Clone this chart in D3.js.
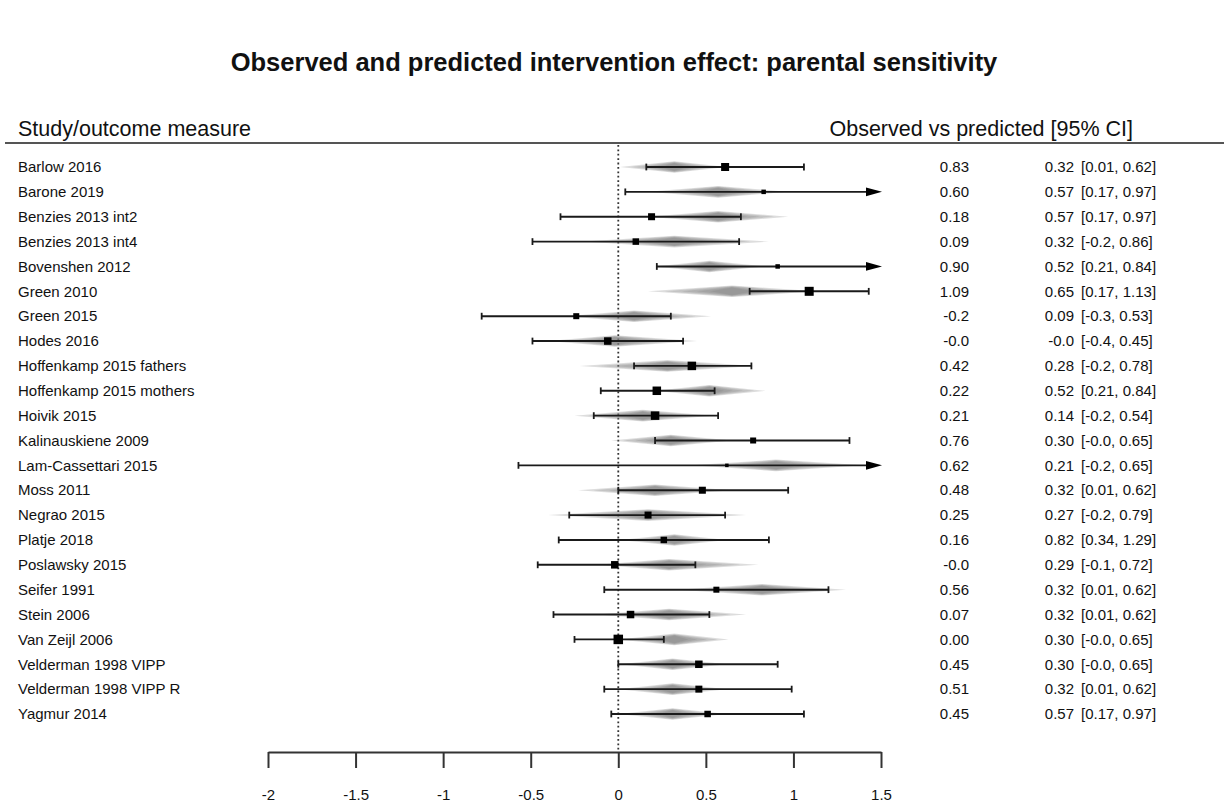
<!DOCTYPE html>
<html>
<head>
<meta charset="utf-8">
<script src="https://cdn.jsdelivr.net/npm/d3@7"></script>
<style>
  body { margin: 0; background: #fff; }
  text { font-family: "Liberation Sans", Arial, sans-serif; fill: #111; }
</style>
</head>
<body>
<div id="chart"></div>
<script>
// data
const studies = ["Barlow 2016", "Barone 2019", "Benzies 2013 int2", "Benzies 2013 int4",
    "Bovenshen 2012", "Green 2010", "Green 2015", "Hodes 2016", "Hoffenkamp 2015 fathers",
    "Hoffenkamp 2015 mothers", "Hoivik 2015", "Kalinauskiene 2009", "Lam-Cassettari 2015",
    "Moss 2011", "Negrao 2015", "Platje 2018", "Poslawsky 2015", "Seifer 1991", "Stein 2006",
    "Van Zeijl 2006", "Velderman 1998 VIPP", "Velderman 1998 VIPP R", "Yagmur 2014"];

// observed effect (square + whiskers)
const obsEst = [0.61, 0.83, 0.19, 0.10, 0.91, 1.09, -0.24, -0.06, 0.42, 0.22, 0.21, 0.77,
    0.62, 0.48, 0.17, 0.26, -0.02, 0.56, 0.07, 0.00, 0.46, 0.46, 0.51];
const obsLo = [0.16, 0.04, -0.33, -0.49, 0.22, 0.75, -0.78, -0.49, 0.09, -0.10, -0.14, 0.21,
    -0.57, 0.00, -0.28, -0.34, -0.46, -0.08, -0.37, -0.25, 0.00, -0.08, -0.04];
const obsHi = [1.06, 1.62, 0.70, 0.69, 1.62, 1.43, 0.30, 0.37, 0.76, 0.55, 0.57, 1.32,
    1.80, 0.97, 0.61, 0.86, 0.44, 1.20, 0.52, 0.26, 0.91, 0.99, 1.06];
const weights = [8, 4.5, 7, 6.5, 4.5, 9, 6, 7.5, 8.5, 8.5, 8.5, 6, 3.5, 7, 7, 6.5, 7.5, 6,
    7.5, 9.5, 7.5, 7, 6.5];

// predicted effect (grey diamond)
const predMid = [0.32, 0.57, 0.57, 0.32, 0.52, 0.65, 0.09, -0.02, 0.28, 0.52, 0.14, 0.30,
    0.90, 0.21, 0.17, 0.32, 0.29, 0.82, 0.29, 0.32, 0.31, 0.31, 0.31];
const predLo = [0.01, 0.17, 0.17, -0.20, 0.21, 0.17, -0.30, -0.40, -0.22, 0.21, -0.25, -0.04,
    0.42, -0.23, -0.40, 0.01, -0.12, 0.34, -0.12, 0.00, 0.01, 0.00, 0.00];
const predHi = [0.62, 0.97, 0.97, 0.86, 0.84, 1.13, 0.53, 0.45, 0.78, 0.84, 0.54, 0.65,
    1.40, 0.65, 0.73, 0.62, 0.80, 1.30, 0.73, 0.63, 0.62, 0.62, 0.62];

// text columns
const obsText = ["0.83", "0.60", "0.18", "0.09", "0.90", "1.09", "-0.2", "-0.0", "0.42", "0.22",
    "0.21", "0.76", "0.62", "0.48", "0.25", "0.16", "-0.0", "0.56", "0.07", "0.00", "0.45",
    "0.51", "0.45"];
const predText = ["0.32", "0.57", "0.57", "0.32", "0.52", "0.65", "0.09", "-0.0", "0.28", "0.52",
    "0.14", "0.30", "0.21", "0.32", "0.27", "0.82", "0.29", "0.32", "0.32", "0.30", "0.30",
    "0.32", "0.57"];
const predCI = ["[0.01, 0.62]", "[0.17, 0.97]", "[0.17, 0.97]", "[-0.2, 0.86]", "[0.21, 0.84]",
    "[0.17, 1.13]", "[-0.3, 0.53]", "[-0.4, 0.45]", "[-0.2, 0.78]", "[0.21, 0.84]",
    "[-0.2, 0.54]", "[-0.0, 0.65]", "[-0.2, 0.65]", "[0.01, 0.62]", "[-0.2, 0.79]",
    "[0.34, 1.29]", "[-0.1, 0.72]", "[0.01, 0.62]", "[0.01, 0.62]", "[-0.0, 0.65]",
    "[-0.0, 0.65]", "[0.01, 0.62]", "[0.17, 0.97]"];

const xTicks = [-2, -1.5, -1, -0.5, 0, 0.5, 1, 1.5];

const rows = studies.map((s, i) => ({
    study: s, est: obsEst[i], lo: obsLo[i], hi: obsHi[i], w: weights[i],
    pm: predMid[i], pl: predLo[i], ph: predHi[i],
    oText: obsText[i], pText: predText[i], ci: predCI[i]
}));

const width = 1224, height = 804;

const svg = d3.select('#chart').append('svg')
    .attr('width', width)
    .attr('height', height);

svg.append('rect').attr('width', width).attr('height', height).attr('fill', '#fff');

const x = d3.scaleLinear().domain([-2, 1.5]).range([268, 881]);
const y = d3.scalePoint().domain(studies).range([167, 714]);
const size = d3.scaleLinear().domain([0, 10]).range([0, 10]);

// title and headers
svg.append('text')
    .attr('x', 614).attr('y', 71)
    .attr('text-anchor', 'middle')
    .style('font-weight', 'bold')
    .style('font-size', '25.5px')
    .text('Observed and predicted intervention effect: parental sensitivity');

svg.append('text')
    .attr('x', 18).attr('y', 136)
    .style('font-size', '21.5px')
    .text('Study/outcome measure');

svg.append('text')
    .attr('x', 1133).attr('y', 136)
    .attr('text-anchor', 'end')
    .style('font-size', '21.5px')
    .text('Observed vs predicted [95% CI]');

svg.append('line')
    .attr('x1', 5).attr('x2', width)
    .attr('y1', 143).attr('y2', 143)
    .attr('stroke', '#555').attr('stroke-width', 2);

// reference line at 0
svg.append('line')
    .attr('x1', x(0)).attr('x2', x(0))
    .attr('y1', 145).attr('y2', 752)
    .attr('stroke', '#333')
    .attr('stroke-width', 1.8)
    .attr('stroke-dasharray', '1.8,2.6');

// x axis
const xAxis = d3.axisBottom(x)
    .tickValues(xTicks)
    .tickSize(16)
    .tickSizeOuter(0)
    .tickPadding(21)
    .tickFormat(d => String(d));

const xAxisGroup = svg.append('g')
    .attr('class', 'axis x-axis')
    .attr('transform', 'translate(0,752)')
    .call(xAxis);

xAxisGroup.selectAll('path, line').attr('stroke', '#333').attr('stroke-width', 2);
xAxisGroup.selectAll('text')
    .style('font-size', '15px')
    .style('font-family', '"Liberation Sans", Arial, sans-serif')
    .attr('fill', '#111');

const g = svg.append('g');
const row = g.selectAll('g.row').data(rows).join('g')
    .attr('class', 'row')
    .attr('transform', d => 'translate(0,' + y(d.study) + ')');

// predicted diamond, built from nested layers to get the soft shading
const layers = [1, 0.8, 0.6, 0.42, 0.26];
row.each(function(d) {
    const sel = d3.select(this);
    layers.forEach(f => {
        const l = x(d.pm) - (x(d.pm) - x(d.pl)) * f;
        const r = x(d.pm) + (x(d.ph) - x(d.pm)) * f;
        const h = 5.8 * (0.55 + 0.45 * f);
        sel.append('path')
            .attr('d', `M${l},0L${x(d.pm)},${-h}L${r},0L${x(d.pm)},${h}Z`)
            .attr('fill', '#7a7a7a')
            .attr('fill-opacity', 0.26);
    });
});

// observed whiskers
const capH = 3.4;
const xMax = 1.5;
row.append('line')
    .attr('x1', d => x(d.lo))
    .attr('x2', d => d.hi > xMax ? x(xMax) - 12 : x(d.hi))
    .attr('stroke', '#1a1a1a').attr('stroke-width', 1.9);

row.append('line')
    .attr('x1', d => x(d.lo)).attr('x2', d => x(d.lo))
    .attr('y1', -capH).attr('y2', capH)
    .attr('stroke', '#1a1a1a').attr('stroke-width', 1.8);

row.filter(d => d.hi <= xMax).append('line')
    .attr('x1', d => x(d.hi)).attr('x2', d => x(d.hi))
    .attr('y1', -capH).attr('y2', capH)
    .attr('stroke', '#1a1a1a').attr('stroke-width', 1.8);

row.filter(d => d.hi > xMax).append('path')
    .attr('d', () => `M${x(xMax) - 15},-4.4L${x(xMax) + 1},0L${x(xMax) - 15},4.4Z`)
    .attr('fill', '#000');

// observed estimate squares
row.append('rect')
    .attr('x', d => x(d.est) - size(d.w) / 2)
    .attr('y', d => -size(d.w) / 2)
    .attr('width', d => size(d.w))
    .attr('height', d => size(d.w))
    .attr('fill', '#000');

// text columns
row.append('text')
    .attr('x', 18).attr('dy', '0.35em')
    .style('font-size', '15px')
    .text(d => d.study);

row.append('text')
    .attr('x', 969).attr('dy', '0.35em')
    .attr('text-anchor', 'end')
    .style('font-size', '15px')
    .text(d => d.oText);

row.append('text')
    .attr('x', 1074).attr('dy', '0.35em')
    .attr('text-anchor', 'end')
    .style('font-size', '15px')
    .text(d => d.pText);

row.append('text')
    .attr('x', 1081).attr('dy', '0.35em')
    .style('font-size', '15px')
    .text(d => d.ci);
</script>
</body>
</html>
